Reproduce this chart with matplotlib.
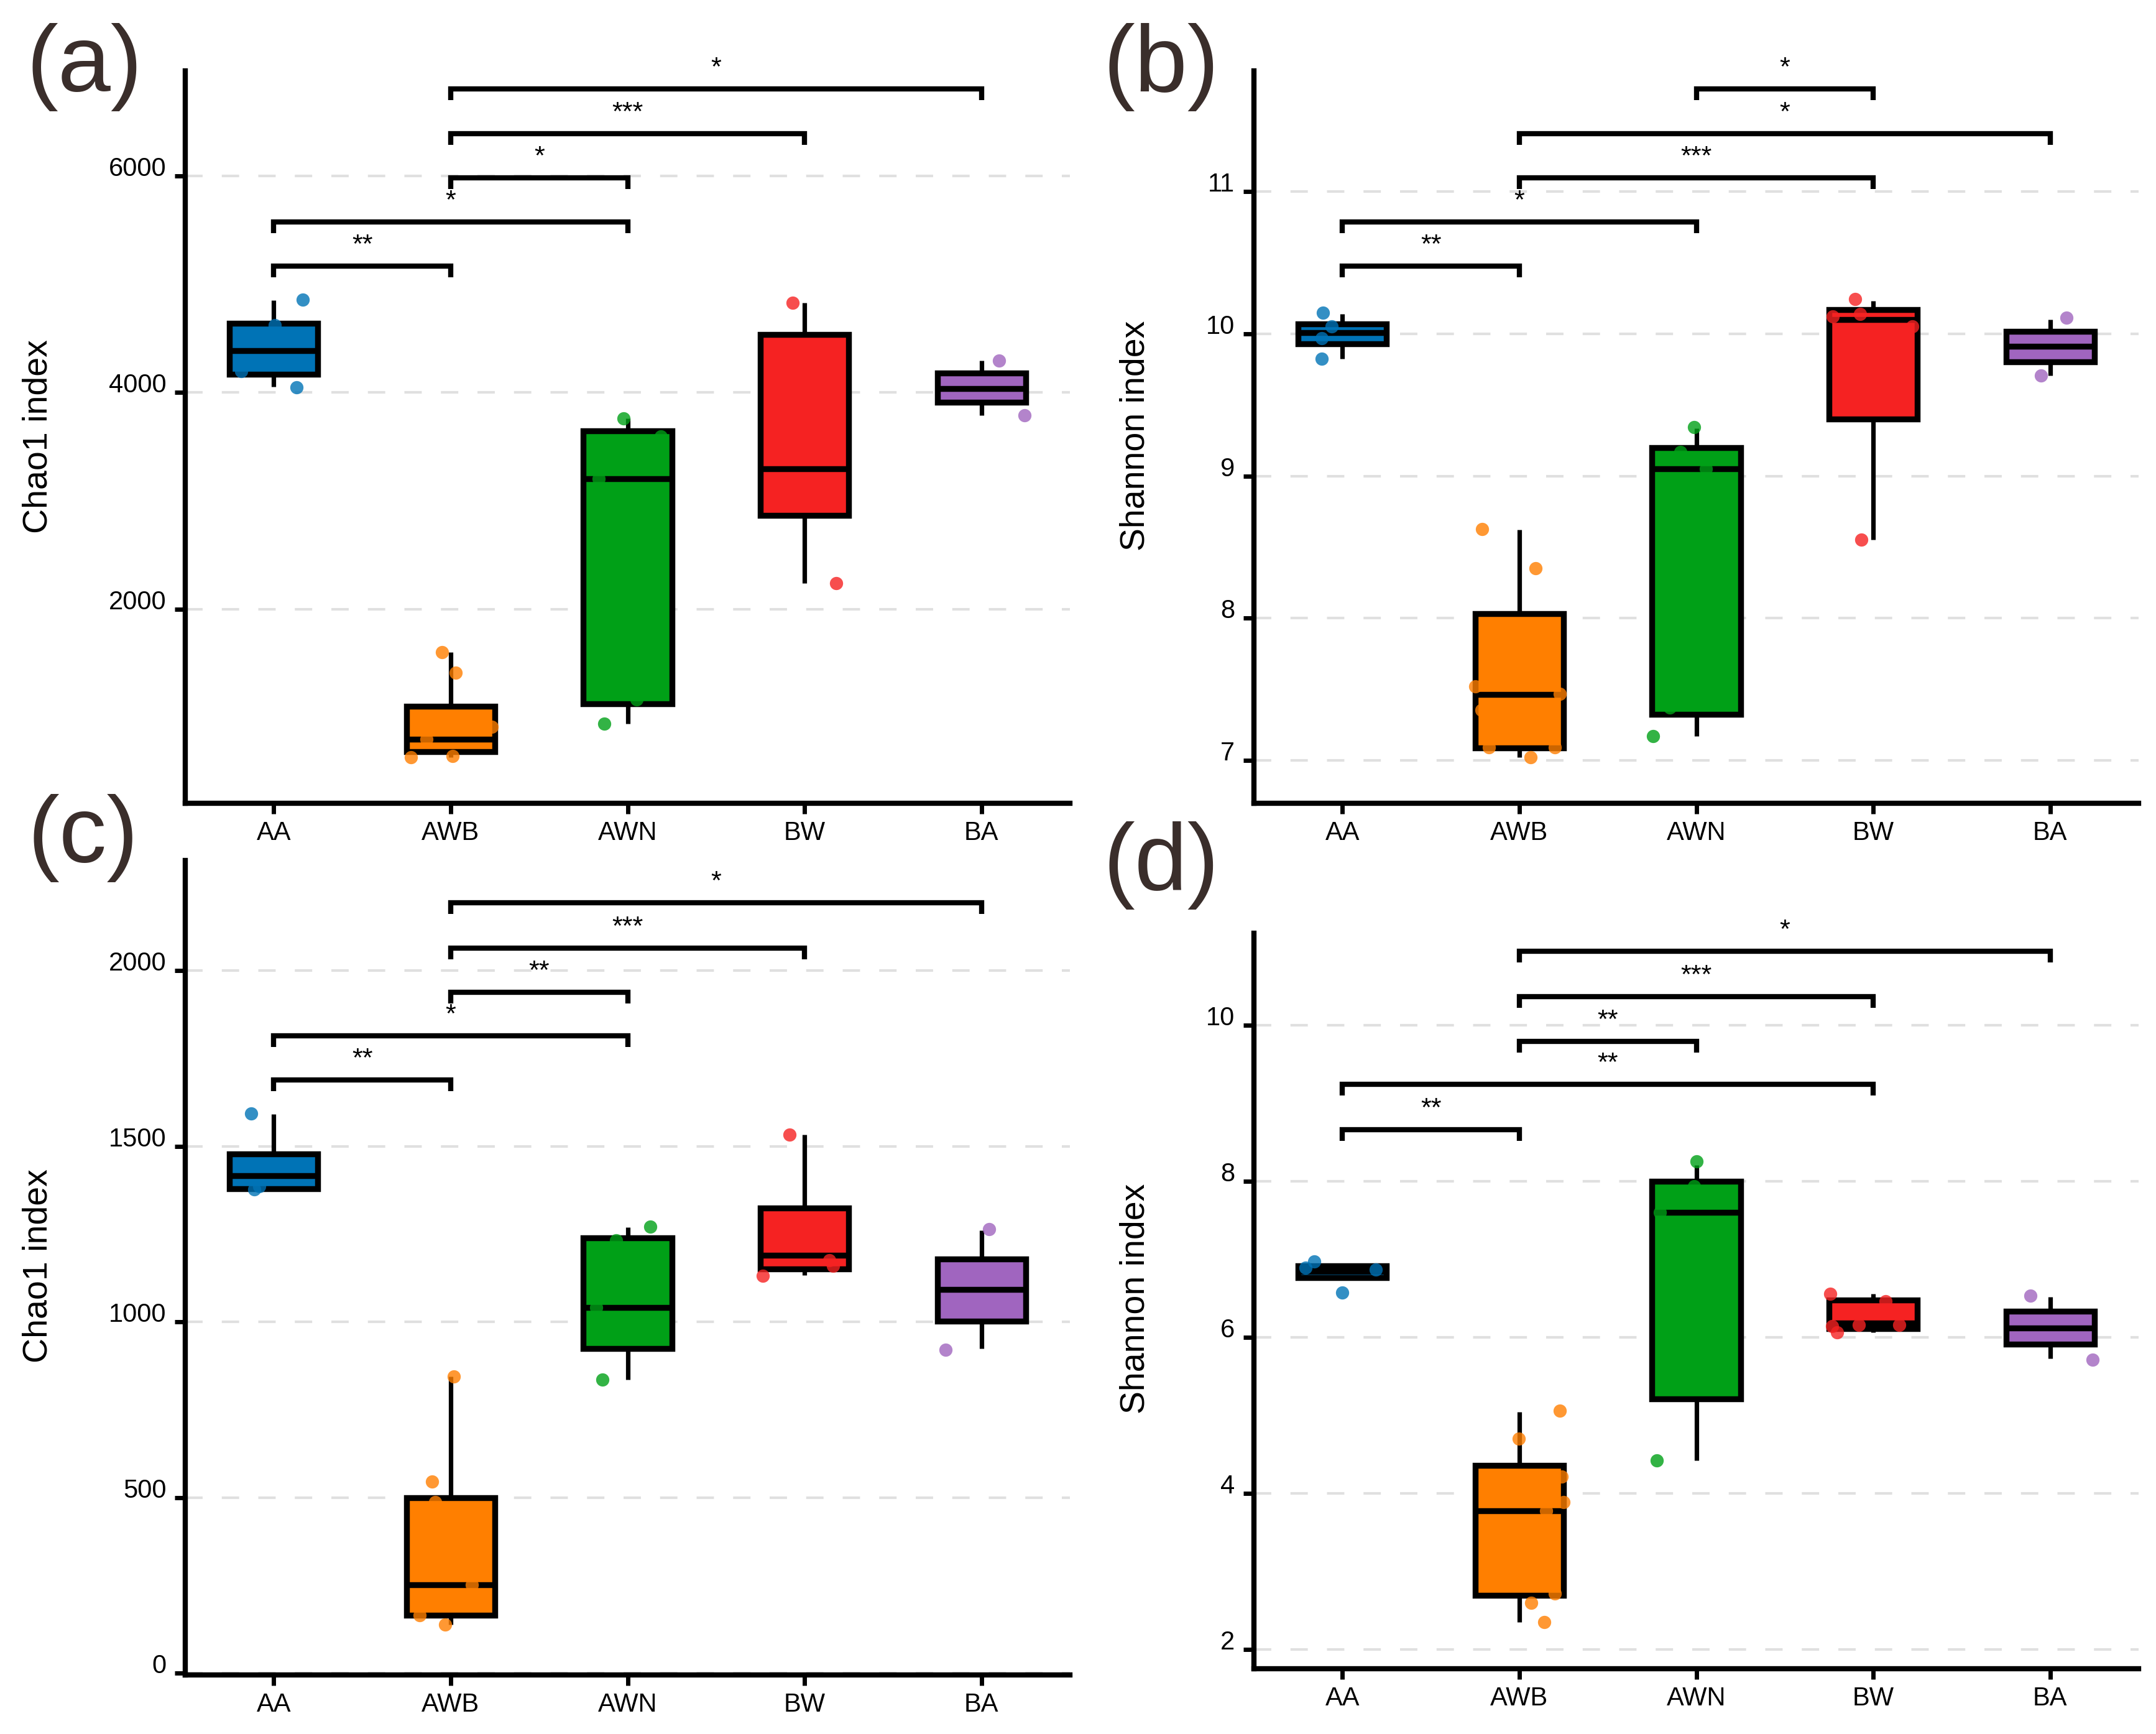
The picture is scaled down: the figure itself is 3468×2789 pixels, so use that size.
import matplotlib
matplotlib.use("Agg")
import matplotlib.pyplot as plt

plt.rcParams['font.family'] = ['Liberation Sans', 'DejaVu Sans']

groups = ["AA", "AWB", "AWN", "BW", "BA"]
box_colors = ["#0073B6", "#FF7F00", "#00A017", "#F52222", "#A065BF"]

# ---------------- panel (a): Chao1 ----------------
a_whislo = [4054, 633, 939, 2240, 3786]
a_q1 = [4169, 684, 1128, 2867, 3908]
a_med = [4386, 801, 3204, 3296, 4036]
a_q3 = [4639, 1102, 3643, 4536, 4179]
a_whishi = [4852, 1602, 3760, 4827, 4296]
a_pts_dx = [[0.165, 0.128, -0.183, 0.005],
            [-0.05, 0.03, -0.225, 0.01, 0.233, -0.136],
            [-0.023, 0.187, -0.132, 0.05, -0.163],
            [-0.066, 0.179],
            [0.101, 0.245]]
a_pts_y = [[4858, 4049, 4197, 4619],
           [1602, 1413, 633, 643, 913, 796],
           [3760, 3592, 939, 1168, 3204],
           [4827, 2240],
           [4296, 3786]]
a_pairs = [(0, 1), (0, 2), (1, 2), (1, 3), (1, 4)]
a_bracket_y = [5163, 5571, 5980, 6388, 6801]
a_bracket_lab = ["**", "*", "*", "***", "*"]
a_yticks = [2000, 4000, 6000]
a_ylim = (207, 6968)

# ---------------- panel (b): Shannon ----------------
b_whislo = [9.827, 7.023, 7.171, 8.551, 9.706]
b_q1 = [9.932, 7.089, 7.323, 9.402, 9.803]
b_med = [10.008, 7.466, 9.052, 10.102, 9.912]
b_q3 = [10.072, 8.034, 9.200, 10.172, 10.017]
b_whishi = [10.141, 8.625, 9.336, 10.230, 10.102]
b_pts_dx = [[-0.109, -0.06, -0.116, -0.116],
            [-0.21, 0.093, -0.249, 0.229, -0.214, -0.171, 0.062, 0.202],
            [-0.012, -0.089, 0.054, -0.245, -0.148],
            [-0.101, -0.229, -0.074, 0.222, -0.066],
            [0.093, -0.05]]
b_pts_y = [[10.149, 10.053, 9.970, 9.826],
           [8.629, 8.353, 7.521, 7.470, 7.354, 7.093, 7.023, 7.093],
           [9.344, 9.169, 9.052, 7.171, 7.373],
           [10.246, 10.121, 10.141, 10.055, 8.551],
           [10.114, 9.706]]
b_pairs = [(0, 1), (0, 2), (1, 3), (1, 4), (2, 3)]
b_bracket_y = [10.475, 10.786, 11.097, 11.408, 11.723]
b_bracket_lab = ["**", "*", "***", "*", "*"]
b_yticks = [7, 8, 9, 10, 11]
b_ylim = (6.699, 11.85)

# ---------------- panel (c): Chao1 ----------------
c_whislo = [1378, 139, 835, 1134, 924]
c_q1 = [1380, 165, 924, 1151, 1003]
c_med = [1417, 252, 1042, 1190, 1092]
c_q3 = [1479, 499, 1240, 1324, 1180]
c_whishi = [1592, 844, 1269, 1533, 1260]
c_pts_dx = [[-0.128, -0.109, -0.082],
            [0.019, -0.105, -0.089, -0.175, -0.031, 0.12],
            [0.128, -0.066, -0.144, -0.179],
            [-0.086, -0.237, 0.14, 0.16],
            [0.043, -0.202]]
c_pts_y = [[1593, 1378, 1387],
           [844, 546, 487, 165, 139, 252],
           [1272, 1232, 835, 1042],
           [1534, 1131, 1176, 1160],
           [1264, 921]]
c_pairs = [(0, 1), (0, 2), (1, 2), (1, 3), (1, 4)]
c_bracket_y = [1689, 1815, 1938, 2064, 2193]
c_bracket_lab = ["**", "*", "**", "***", "*"]
c_yticks = [0, 500, 1000, 1500, 2000]
c_ylim = (-5, 2314)

# ---------------- panel (d): Shannon ----------------
d_whislo = [6.765, 2.348, 4.417, 6.06, 5.727]
d_q1 = [6.765, 2.689, 5.212, 6.114, 5.909]
d_med = [6.841, 3.773, 7.598, 6.182, 6.121]
d_q3 = [6.917, 4.356, 8.0, 6.477, 6.333]
d_whishi = [6.932, 5.045, 8.205, 6.56, 6.515]
d_pts_dx = [[-0.159, -0.21, 0.187, 0.0],
            [0.229, -0.004, 0.241, 0.249, 0.152, 0.202, 0.066, 0.14],
            [0.0, -0.012, -0.206, -0.222],
            [-0.242, 0.07, -0.232, -0.204, -0.081, 0.147],
            [-0.113, 0.241]]
d_pts_y = [[6.970, 6.894, 6.864, 6.576],
           [5.061, 4.697, 4.212, 3.886, 3.773, 2.712, 2.591, 2.348],
           [8.258, 7.939, 7.598, 4.417],
           [6.558, 6.462, 6.144, 6.061, 6.159, 6.159],
           [6.530, 5.712]]
d_pairs = [(0, 1), (0, 3), (1, 2), (1, 3), (1, 4)]
d_bracket_y = [8.659, 9.242, 9.795, 10.364, 10.947]
d_bracket_lab = ["**", "**", "**", "***", "*"]
d_yticks = [2, 4, 6, 8, 10]
d_ylim = (1.75, 11.18)

panel_labels = ["(a)", "(b)", "(c)", "(d)"]
y_labels = ["Chao1 index", "Shannon index", "Chao1 index", "Shannon index"]

W, H = 3468, 2789
fig = plt.figure(figsize=(W / 100, H / 100), dpi=100)


def rect(l, t, r, b):
    return [l / W, 1 - b / H, (r - l) / W, (b - t) / H]


def draw_panel(ax, height_px, whislo, q1, med, q3, whishi, pdx, py,
               pairs, by, blabs, yticks, ylim):
    ax.set_xlim(0.5, 5.5)
    ax.set_ylim(*ylim)
    for yt in yticks:
        ax.axhline(yt, color='#e0e0e0', lw=3, ls=(0, (6.7, 7.4)), zorder=0)
    stats = [dict(whislo=whislo[i], q1=q1[i], med=med[i], q3=q3[i],
                  whishi=whishi[i], label=groups[i]) for i in range(5)]
    bp = ax.bxp(stats, positions=range(1, 6), widths=0.5, patch_artist=True,
                showcaps=False, showfliers=False, manage_ticks=False,
                boxprops=dict(linewidth=6.8, edgecolor='black'),
                medianprops=dict(color='black', linewidth=6.8,
                                 solid_capstyle='butt'),
                whiskerprops=dict(color='black', linewidth=5.2,
                                  solid_capstyle='butt'),
                zorder=2)
    for patch, c in zip(bp['boxes'], box_colors):
        patch.set_facecolor(c)
        patch.set_joinstyle('miter')
    for i in range(5):
        xs = [i + 1 + d for d in pdx[i]]
        ax.scatter(xs, py[i], s=235, color=box_colors[i], alpha=0.8,
                   linewidths=0, zorder=3)
    tip = 18.0 / height_px * (ylim[1] - ylim[0])
    for (i, j), y, lab in zip(pairs, by, blabs):
        x1, x2 = i + 1, j + 1
        ax.plot([x1, x1, x2, x2], [y - tip, y, y, y - tip], color='black',
                lw=6, solid_joinstyle='miter', solid_capstyle='butt',
                clip_on=False, zorder=4)
        ax.annotate(lab, xy=((x1 + x2) / 2, y), xytext=(0, 16),
                    textcoords='offset points', ha='center', va='baseline',
                    fontsize=31, color='black', annotation_clip=False)
    for s in ['top', 'right']:
        ax.spines[s].set_visible(False)
    for s in ['left', 'bottom']:
        ax.spines[s].set_linewidth(6)
        ax.spines[s].set_capstyle('projecting')
    ax.set_xticks(range(1, 6))
    ax.set_xticklabels(groups)
    ax.set_yticks(yticks)
    ax.set_yticklabels([str(v) for v in yticks])
    ax.tick_params(axis='both', width=5, length=12, labelsize=30,
                   color='black', labelcolor='black')
    ax.tick_params(axis='x', pad=8)
    ax.tick_params(axis='y', pad=10)
    for lab in ax.get_yticklabels():
        lab.set_va('baseline')


ax_a = fig.add_axes(rect(298, 114, 1721, 1292))
draw_panel(ax_a, 1178, a_whislo, a_q1, a_med, a_q3, a_whishi, a_pts_dx,
           a_pts_y, a_pairs, a_bracket_y, a_bracket_lab, a_yticks, a_ylim)
ax_b = fig.add_axes(rect(2017, 114, 3440, 1292))
draw_panel(ax_b, 1178, b_whislo, b_q1, b_med, b_q3, b_whishi, b_pts_dx,
           b_pts_y, b_pairs, b_bracket_y, b_bracket_lab, b_yticks, b_ylim)
ax_c = fig.add_axes(rect(298, 1384, 1721, 2694))
draw_panel(ax_c, 1310, c_whislo, c_q1, c_med, c_q3, c_whishi, c_pts_dx,
           c_pts_y, c_pairs, c_bracket_y, c_bracket_lab, c_yticks, c_ylim)
ax_d = fig.add_axes(rect(2017, 1501, 3440, 2684))
draw_panel(ax_d, 1183, d_whislo, d_q1, d_med, d_q3, d_whishi, d_pts_dx,
           d_pts_y, d_pairs, d_bracket_y, d_bracket_lab, d_yticks, d_ylim)

# panel labels
label_pos = [(43, 147), (1774, 147), (45, 1387), (1774, 1431)]
for (x, y), t in zip(label_pos, panel_labels):
    fig.text(x / W, 1 - y / H, t, fontsize=110, color='#3a2e2b',
             ha='left', va='baseline')

# y axis titles
ylab_pos = [(61, 702), (1826, 701), (61, 2036), (1826, 2089)]
for (x, y), t in zip(ylab_pos, y_labels):
    fig.text(x / W, 1 - y / H, t, fontsize=40, rotation=90,
             ha='center', va='center', color='black')

fig.savefig("out.png", dpi=100)
